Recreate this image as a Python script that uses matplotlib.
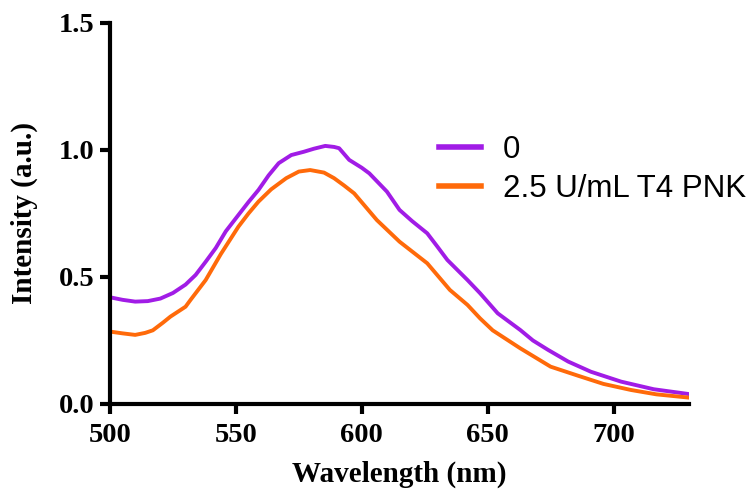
import matplotlib
matplotlib.use('Agg')
import matplotlib.pyplot as plt
import matplotlib.ticker as ticker

# emission spectra, wavelength (nm) vs intensity (a.u.)
wl_blank = [500, 505, 510, 515, 520, 525, 530, 534, 538, 542, 546, 551, 555,
            559, 563, 567, 572, 577, 581, 585.5, 589, 591, 595, 600, 603, 610,
            615, 620, 626, 630, 634, 642, 647, 654, 663, 668, 674, 682, 691,
            703, 716, 730]
int_blank = [0.42, 0.41, 0.403, 0.405, 0.415, 0.437, 0.47, 0.508, 0.56, 0.614,
             0.68, 0.744, 0.795, 0.843, 0.90, 0.948, 0.98, 0.993, 1.005, 1.016,
             1.012, 1.007, 0.961, 0.93, 0.908, 0.836, 0.764, 0.72, 0.672, 0.62,
             0.567, 0.488, 0.436, 0.357, 0.291, 0.25, 0.213, 0.167, 0.127,
             0.088, 0.058, 0.039]

wl_pnk = [500, 505, 510, 514, 517, 521, 524, 530, 532, 538, 544, 551, 555, 559,
          564, 570, 575, 579.5, 585, 589, 593, 597, 606, 615, 626, 635, 642,
          647, 652, 663, 675, 686, 696, 707, 717, 730]
int_pnk = [0.285, 0.278, 0.272, 0.28, 0.29, 0.32, 0.344, 0.383, 0.41, 0.488,
           0.59, 0.698, 0.75, 0.797, 0.845, 0.889, 0.915, 0.921, 0.911, 0.889,
           0.86, 0.829, 0.724, 0.639, 0.554, 0.449, 0.39, 0.337, 0.29, 0.219,
           0.147, 0.111, 0.079, 0.055, 0.038, 0.025]

labels = ['0', '2.5 U/mL T4 PNK']
colors = ['#A11CE6', '#FF6A0A']

tick_font = {'family': 'Liberation Serif', 'weight': 'bold', 'size': 20.5}
label_font = {'family': 'Liberation Serif', 'weight': 'bold', 'size': 21}

fig = plt.figure(figsize=(7.5, 4.92), dpi=100)
ax = fig.add_axes([0.1467, 0.1789, 0.772, 0.7744])

ax.plot(wl_blank, int_blank, color=colors[0], lw=2.8, label=labels[0])
ax.plot(wl_pnk, int_pnk, color=colors[1], lw=2.8, label=labels[1])

ax.set_xlim(500, 730)
ax.set_ylim(0, 1.5)
ax.xaxis.set_major_locator(ticker.FixedLocator([500, 550, 600, 650, 700]))
ax.yaxis.set_major_locator(ticker.MultipleLocator(0.5))
ax.yaxis.set_major_formatter(ticker.FormatStrFormatter('%.1f'))

ax.spines['top'].set_visible(False)
ax.spines['right'].set_visible(False)
for side in ['left', 'bottom']:
    ax.spines[side].set_linewidth(3)
ax.tick_params(direction='out', length=7, width=3)
ax.tick_params(axis='x', pad=7)
ax.tick_params(axis='y', pad=4)
for lab in ax.get_xticklabels() + ax.get_yticklabels():
    lab.set_fontproperties(tick_font)

ax.set_xlabel('Wavelength (nm)', fontdict=label_font, labelpad=9)
ax.set_ylabel('Intensity (a.u.)', fontdict=label_font, labelpad=15)

leg = ax.legend(loc='upper left', bbox_to_anchor=(0.52, 0.78),
                frameon=False, handlelength=1.35, handletextpad=0.68,
                labelspacing=0.3, prop={'family': 'Liberation Sans', 'size': 22.5})
for line in leg.get_lines():
    line.set_linewidth(4)

fig.savefig('out.png', dpi=100)
